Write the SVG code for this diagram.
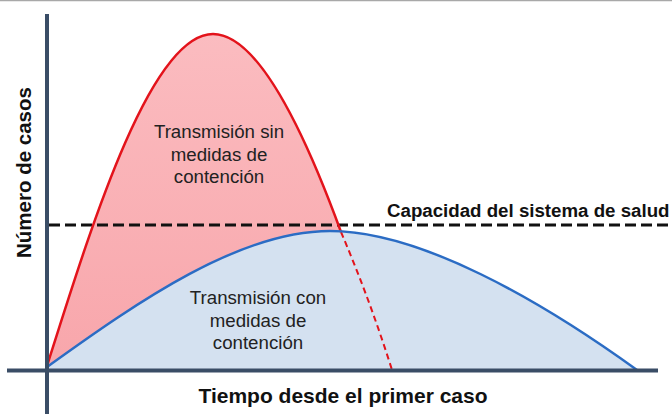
<svg xmlns="http://www.w3.org/2000/svg" width="672" height="414" viewBox="0 0 672 414">
<style>
.lbl{font-family:"Liberation Sans",Arial,sans-serif;font-size:18.7px;fill:#222;text-anchor:middle}
.bold{font-family:"Liberation Sans",Arial,sans-serif;font-weight:bold;fill:#111}
.axis{stroke:#3a4d66;stroke-width:4;fill:none}
</style>
<defs>
<linearGradient id="redGrad" x1="0" y1="0" x2="0" y2="1">
<stop offset="0" stop-color="#fbbcc0"/>
<stop offset="1" stop-color="#f8a6ab"/>
</linearGradient>
</defs>
<rect width="672" height="414" fill="#ffffff"/>
<line x1="0" y1="0.5" x2="672" y2="0.5" stroke="#a8a8a8" stroke-width="1.5"/>
<g id="red-area">
<path d="M47,366 C90,230 150,34 213,34 C255,34 300,120 341,232 Q370,300 392,370 L47,370 Z" fill="url(#redGrad)"/>
</g>
<g id="blue-area">
<path d="M47,367 C140,300 240,231 330,231 C420,231 540,300 637,370 L47,370 Z" fill="#d4e1f0"/>
</g>
<g id="capacity">
<line x1="49" y1="225" x2="672" y2="225" stroke="#111" stroke-width="3" stroke-dasharray="11 5"/>
<text class="bold" x="387" y="217" font-size="18.7">Capacidad del sistema de salud</text>
</g>
<g id="connectors">
<path d="M47,366 C90,230 150,34 213,34 C255,34 300,120 341,232" fill="none" stroke="#e3131b" stroke-width="2.5"/>
<path d="M341,232 Q370,300 392,370" fill="none" stroke="#e3131b" stroke-width="2" stroke-dasharray="6 4"/>
<path d="M47,367 C140,300 240,231 330,231 C420,231 540,300 637,370" fill="none" stroke="#2b6cc4" stroke-width="2.5"/>
</g>
<g id="axes">
<line class="axis" x1="47" y1="14" x2="47" y2="414"/>
<line class="axis" x1="7" y1="370.5" x2="658" y2="370.5"/>
</g>
<g id="label-sin">
<text class="lbl" x="219" y="138">Transmisión sin</text>
<text class="lbl" x="219" y="161">medidas de</text>
<text class="lbl" x="219" y="183">contención</text>
</g>
<g id="label-con">
<text class="lbl" x="258" y="304">Transmisión con</text>
<text class="lbl" x="258" y="327">medidas de</text>
<text class="lbl" x="258" y="349">contención</text>
</g>
<g id="x-label">
<text class="bold" x="343" y="403" font-size="21" text-anchor="middle">Tiempo desde el primer caso</text>
</g>
<g id="y-label">
<text class="bold" transform="translate(31,172.5) rotate(-90)" x="0" y="0" font-size="20.5" text-anchor="middle">Número de casos</text>
</g>
</svg>
